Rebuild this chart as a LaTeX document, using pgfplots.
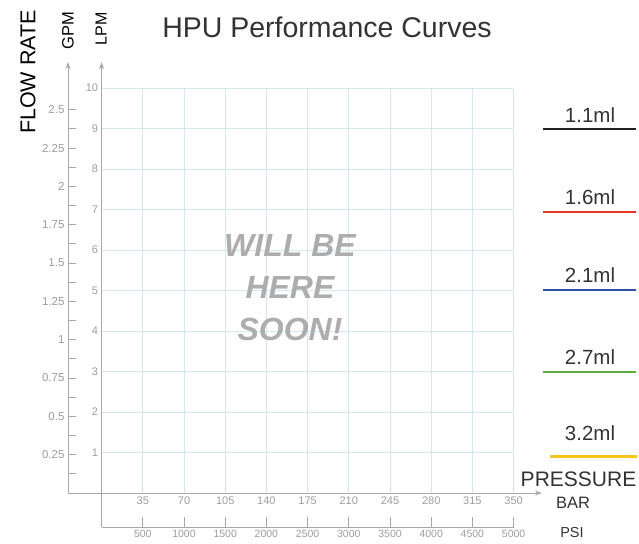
\documentclass[border=0pt]{standalone}
\usepackage{fontspec}
\setmainfont{Liberation Sans}
\usepackage{pgfplots}
\pgfplotsset{compat=1.18}
\usetikzlibrary{arrows.meta}
\definecolor{gridc}{HTML}{D2E9EE}
\definecolor{axc}{HTML}{A8A8A8}
\definecolor{tickc}{HTML}{9C9C9C}
\definecolor{txtc}{HTML}{333333}
\definecolor{c11}{HTML}{222222}
\definecolor{c16}{HTML}{E8352A}
\definecolor{c21}{HTML}{2E4FA8}
\definecolor{c27}{HTML}{5FAE3D}
\definecolor{c32}{HTML}{F5C518}
\begin{document}
\begin{tikzpicture}[x=1pt,y=1pt]
\path[use as bounding box] (0,0) rectangle (639,543);

% main grid: BAR vs LPM
\begin{axis}[
  at={(101.6pt,50pt)}, anchor=south west,
  x=1.17714pt, y=40.5pt,
  xmin=0, xmax=350, ymin=0, ymax=10,
  axis line style={draw=none},
  xtick={35,70,105,140,175,210,245,280,315,350},
  ytick={1,2,3,4,5,6,7,8,9,10},
  major tick length=0pt,
  grid=major, major grid style={gridc, line width=0.7pt},
  tick label style={font=\fontsize{11}{11}\selectfont, text=tickc},
  /pgf/number format/assume math mode=true,
  clip=false,
]
\draw[axc, line width=0.8pt, -{Stealth[length=7pt,width=5pt]}] (axis cs:-28.5,0) -- (axis cs:374,0);
\draw[axc, line width=0.8pt, -{Stealth[length=7pt,width=5pt]}] (axis cs:0,-0.84) -- (axis cs:0,10.64);
\end{axis}

% GPM axis
\begin{axis}[
  at={(68pt,50pt)}, anchor=south west,
  x=1pt, y=153.309pt,
  xmin=0, xmax=1, ymin=0, ymax=2.811,
  axis x line=none, axis y line=left,
  axis line style={axc, line width=0.8pt, -{Stealth[length=7pt,width=5pt]}},
  ytick={0.25,0.5,0.75,1,1.25,1.5,1.75,2,2.25,2.5},
  minor ytick={0.125,0.375,0.625,0.875,1.125,1.375,1.625,1.875,2.125,2.375},
  tick align=inside, major tick length=8pt, minor tick length=8pt,
  tick style={axc, line width=0.8pt},
  yticklabel style={font=\fontsize{11.5}{11.5}\selectfont, text=tickc},
  /pgf/number format/.cd, fixed, precision=2, assume math mode=true,
]
\end{axis}

% PSI axis
\begin{axis}[
  at={(101.6pt,16pt)}, anchor=south west,
  x=0.0824pt, y=1pt,
  xmin=0, xmax=5000, ymin=0, ymax=1,
  axis y line=none, axis x line=bottom,
  axis line style={axc, line width=0.8pt, -},
  xtick={500,1000,1500,2000,2500,3000,3500,4000,4500,5000},
  tick align=inside, major tick length=10pt,
  tick style={axc, line width=0.8pt},
  xticklabel style={font=\fontsize{10.5}{10.5}\selectfont, text=tickc},
  /pgf/number format/.cd, 1000 sep={}, assume math mode=true,
]
\end{axis}

% titles and labels
\node[font=\fontsize{28.5}{30}\selectfont, text=txtc] at (327,516) {HPU Performance Curves};
\node[font=\fontsize{21.5}{22}\selectfont, text=black, rotate=90] at (28,471) {FLOW RATE};
\node[font=\fontsize{16.5}{17}\selectfont, text=black, rotate=90] at (68,512) {GPM};
\node[font=\fontsize{16}{17}\selectfont, text=black, rotate=90] at (101,514) {LPM};
\node[font=\fontsize{21}{22}\selectfont, text=txtc] at (578.5,64) {PRESSURE};
\node[font=\fontsize{16.5}{17}\selectfont, text=txtc] at (573,40) {BAR};
\node[font=\fontsize{14.5}{15}\selectfont, text=txtc, inner sep=1pt] at (572,10) {PSI};

% placeholder text
\node[font=\fontsize{32}{42}\selectfont\bfseries\itshape, text=black!32, align=center] at (290,255) {WILL BE\\HERE\\SOON!};

% legend
\draw[c11, line width=2.5pt] (543,414) -- (636,414);
\draw[c16, line width=2.5pt] (543,331) -- (636,331);
\draw[c21, line width=2.5pt] (543,253) -- (636,253);
\draw[c27, line width=2.5pt] (543,171) -- (636,171);
\draw[c32, line width=3pt] (550,86) -- (637,86);
\node[font=\fontsize{20.5}{20.5}\selectfont, text=txtc] at (590,428) {1.1ml};
\node[font=\fontsize{20.5}{20.5}\selectfont, text=txtc] at (590,346) {1.6ml};
\node[font=\fontsize{20.5}{20.5}\selectfont, text=txtc] at (590,268) {2.1ml};
\node[font=\fontsize{20.5}{20.5}\selectfont, text=txtc] at (590,186) {2.7ml};
\node[font=\fontsize{20.5}{20.5}\selectfont, text=txtc] at (590,110) {3.2ml};
\end{tikzpicture}
\end{document}
